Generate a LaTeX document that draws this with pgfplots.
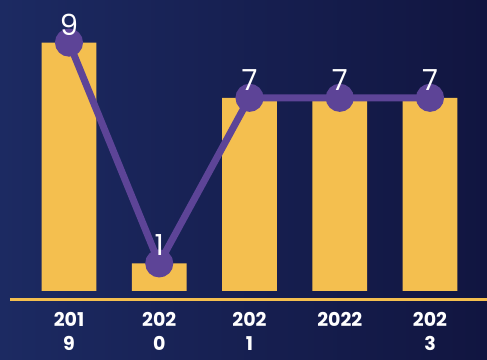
\documentclass[border=0pt]{standalone}
\usepackage{pgfplots}
\pgfplotsset{compat=1.18}
\usepackage{fontspec}
\setmainfont{Poppins}
\definecolor{baryellow}{HTML}{F4BF4F}
\definecolor{linepurple}{HTML}{5D4497}
\definecolor{bgleft}{HTML}{1C2A62}
\definecolor{bgright}{HTML}{111540}
\begin{document}
\begin{tikzpicture}
\begin{axis}[
  scale only axis, width=487pt, height=359pt,
  xmin=-0.7645, xmax=4.6316, ymin=-2.464, ymax=10.543,
  axis line style={draw=none},
  major tick length=0pt,
  ytick=\empty,
  xtick={0,1,2,3,4},
  xticklabels={{201\\9},{202\\0},{202\\1},{2022},{202\\3}},
  xticklabel style={align=center, anchor=north, inner sep=0pt, yshift=47pt,
    font=\bfseries\fontsize{19}{24}\selectfont, text=white},
  axis background/.style={left color=bgleft, right color=bgright},
  clip=false,
]
\addplot[ybar, bar width=54.6pt, fill=baryellow, draw=none]
  coordinates {(0,9) (1,1) (2,7) (3,7) (4,7)};
\draw[baryellow, line width=3pt] (axis cs:-0.654,-0.326) -- (axis cs:4.7,-0.326);
\addplot[linepurple, line width=7pt, mark=*, mark size=10.5pt,
  mark options={fill=linepurple, draw=none},
  nodes near coords,
  every node near coord/.append style={font=\fontsize{29}{29}\selectfont, text=white,
    anchor=center, yshift=18pt, /pgf/number format/assume math mode=true}]
  coordinates {(0,9) (1,1) (2,7) (3,7) (4,7)};
\coordinate (SW) at (rel axis cs:0,0);
\coordinate (NE) at (rel axis cs:1,1);
\end{axis}
\pgfresetboundingbox
\path (SW) rectangle (NE);
\end{tikzpicture}
\end{document}
